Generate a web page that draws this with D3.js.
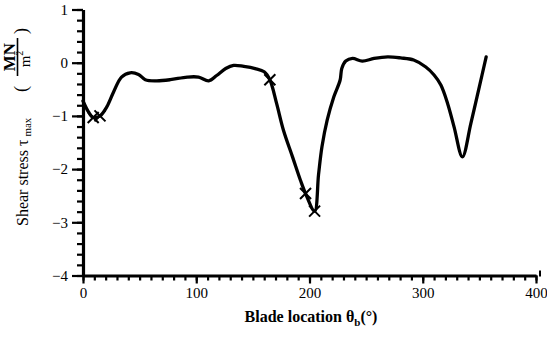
<!DOCTYPE html>
<html><head><meta charset="utf-8">
<script src="https://cdn.jsdelivr.net/npm/d3@7"></script>
<style>
body{margin:0;background:#fff;}
svg text{font-family:"Liberation Serif","Times New Roman","DejaVu Serif",serif !important;fill:#000;}
</style></head>
<body><svg id="c" width="547" height="337"></svg>
<script>
const theta = [0, 4.7, 9, 15, 21, 27, 34, 41.6, 49, 55, 65, 77, 92, 102, 111, 118, 126, 133, 142, 152, 160, 165, 171, 177, 185, 192, 196.5, 204.5, 208, 211, 215.6, 221.5, 227, 228.5, 232, 238, 246.6, 257, 269, 280.5, 292, 302.7, 310, 316, 322, 327.7, 335, 342.5, 350, 356];
const tau = [-0.72, -0.92, -1.03, -1.0, -0.83, -0.55, -0.27, -0.19, -0.22, -0.32, -0.34, -0.32, -0.27, -0.27, -0.34, -0.24, -0.11, -0.05, -0.07, -0.11, -0.17, -0.32, -0.77, -1.27, -1.77, -2.21, -2.46, -2.79, -2.1, -1.58, -1.08, -0.64, -0.33, -0.11, 0.03, 0.08, 0.03, 0.08, 0.11, 0.09, 0.05, -0.08, -0.23, -0.42, -0.77, -1.21, -1.77, -1.14, -0.45, 0.11];
const markerTheta = [9, 15, 165, 196.5, 204.5];
const markerTau = [-1.03, -1.0, -0.32, -2.46, -2.79];
const xTicks = [0, 100, 200, 300, 400];
const yTicks = [1, 0, -1, -2, -3, -4];
const xLabel = "Blade location θ";
const yLabel = "Shear stress τ";

const svg = d3.select("#c");
const x = d3.scaleLinear().domain([0, 400]).range([83, 536]);
const y = d3.scaleLinear().domain([-4, 1]).range([275.5, 9.5]);

// y axis
const gy = svg.append("g").attr("transform", `translate(${x(0)},0)`);
gy.call(d3.axisLeft(y).tickValues(d3.range(-4, 1.0001, 0.2)).tickSize(6).tickFormat("").tickSizeOuter(0));
gy.append("g").call(d3.axisLeft(y).tickValues(yTicks).tickSize(11).tickFormat(d3.format("d")))
  .call(g => g.select(".domain").remove());
gy.selectAll(".tick line").attr("stroke-width", 2.2);
gy.selectAll(".tick text").attr("font-size", 15).attr("x", -15);
gy.select(".domain").attr("stroke-width", 3.2);

// x axis
const gx = svg.append("g").attr("transform", `translate(0,${y(-4)})`);
gx.call(d3.axisBottom(x).tickValues(d3.range(0, 401, 10)).tickSize(5).tickFormat("").tickSizeOuter(0));
gx.append("g").call(d3.axisBottom(x).tickValues(xTicks).tickSize(8).tickFormat(d3.format("d")))
  .call(g => g.select(".domain").remove());
gx.selectAll(".tick line").attr("stroke-width", 2.2);
gx.selectAll(".tick text").attr("font-size", 15).attr("y", 12);
gx.select(".domain").attr("stroke-width", 3.2);
gx.append("line").attr("x1", x(400)+4).attr("x2", x(400)+4).attr("y1", -5).attr("y2", 1).attr("stroke", "#000").attr("stroke-width", 2);

// curve
const pts = theta.map((t, i) => [t, tau[i]]);
svg.append("path").datum(pts)
  .attr("d", d3.line().x(d => x(d[0])).y(d => y(d[1])).curve(d3.curveCatmullRom.alpha(0.5)))
  .attr("fill", "none").attr("stroke", "#000").attr("stroke-width", 3.3).attr("stroke-linejoin", "round").attr("stroke-linecap", "round");

// markers
const m = 5.5;
markerTheta.forEach((t, i) => {
  const cx = x(t), cy = y(markerTau[i]);
  svg.append("path").attr("d", `M${cx-m},${cy-m}L${cx+m},${cy+m}M${cx-m},${cy+m}L${cx+m},${cy-m}`)
    .attr("stroke", "#000").attr("stroke-width", 2);
});

// x label
const xl = svg.append("text").attr("x", 311).attr("y", 322).attr("text-anchor", "middle")
  .attr("font-size", 16).attr("font-weight", "bold");
xl.append("tspan").text(xLabel);
xl.append("tspan").attr("font-size", 11).attr("dy", 4).text("b");
xl.append("tspan").attr("dy", -4).text("(°)");

// y label
const yl = svg.append("g").attr("transform", "translate(28,226) rotate(-90)");
const t1 = yl.append("text").attr("x", 0).attr("y", 0).attr("font-size", 16);
t1.append("tspan").text(yLabel);
t1.append("tspan").attr("font-size", 11).attr("dx", 3).attr("dy", 3).text("max");
yl.append("text").attr("x", 134).attr("y", -1).attr("font-size", 18).text("(");
yl.append("text").attr("x", 169).attr("y", -13).attr("font-size", 17).attr("font-weight", "bold").attr("text-anchor", "middle").text("MN");
yl.append("line").attr("x1", 150).attr("x2", 188).attr("y1", -10.5).attr("y2", -10.5).attr("stroke", "#000").attr("stroke-width", 1.6);
const mm = yl.append("text").attr("x", 167).attr("y", 2).attr("font-size", 15).attr("text-anchor", "middle");
mm.append("tspan").text("m");
mm.append("tspan").attr("font-size", 10).attr("dy", -7).text("2");
yl.append("text").attr("x", 192).attr("y", -1).attr("font-size", 18).text(")");
</script></body></html>
